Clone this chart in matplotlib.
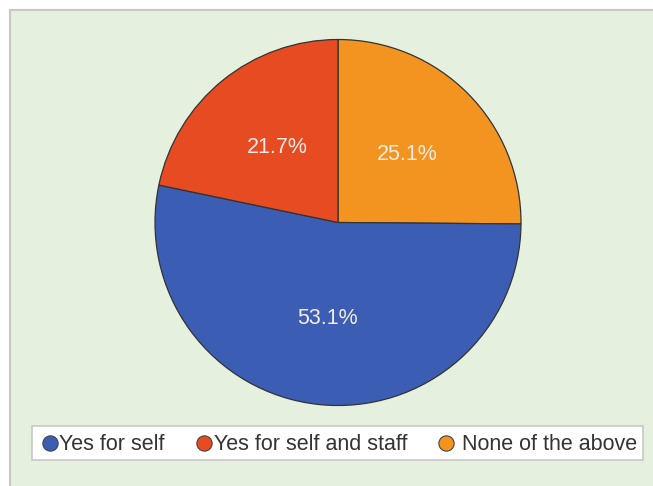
import matplotlib
matplotlib.use("Agg")
import matplotlib.pyplot as plt
from matplotlib.patches import Rectangle

categories = ["Yes for self", "Yes for self and staff", "None of the above"]
values = [53.1, 21.7, 25.1]
colors = ["#3b5db3", "#e64b21", "#f39421"]

# drawing order clockwise from 12 o'clock: orange, blue, red
order = [2, 0, 1]

W, H = 653, 486
fig = plt.figure(figsize=(W / 100, H / 100), dpi=100)
fig.patch.set_facecolor("white")
ax = fig.add_axes([0, 0, 1, 1])

cx, cy, r = 338, H - 222.5, 183
ordered_vals = [values[i] for i in order]
labels_iter = iter(ordered_vals)
wedges, texts, autotexts = ax.pie(
    ordered_vals,
    colors=[colors[i] for i in order],
    startangle=90, counterclock=False,
    center=(cx, cy), radius=r, frame=True,
    autopct=lambda p: f"{next(labels_iter):.1f}%", pctdistance=0.53,
    wedgeprops=dict(edgecolor="#333333", linewidth=0.9),
    textprops=dict(color="#f4ece4", fontsize=15.5, family="Liberation Sans"),
)
ax.set_xlim(0, W)
ax.set_ylim(0, H)
ax.set_aspect("equal")
ax.axis("off")

# background panel with grey border on top/left
ax.add_patch(Rectangle((10, -5), W, H - 10 + 5, facecolor="#e6f0df",
                       edgecolor="#c8c8c8", linewidth=1.5, zorder=0))

# legend box
ax.add_patch(Rectangle((32, H - 460), 611, 34, facecolor="white",
                       edgecolor="#c8c8c8", linewidth=1.2, zorder=3))
marker_x = [50, 204, 446]
text_x = [59, 214, 462]
for i, cat in enumerate(categories):
    ax.plot([marker_x[i]], [H - 443], marker="o", markersize=11,
            markerfacecolor=colors[i], markeredgecolor="#444444",
            markeredgewidth=0.8, zorder=4)
    ax.text(text_x[i], H - 444, cat, ha="left", va="center", fontsize=15.5,
            family="Liberation Sans", color="#333333", zorder=4)

fig.savefig("out.png", dpi=100, facecolor=fig.get_facecolor())
